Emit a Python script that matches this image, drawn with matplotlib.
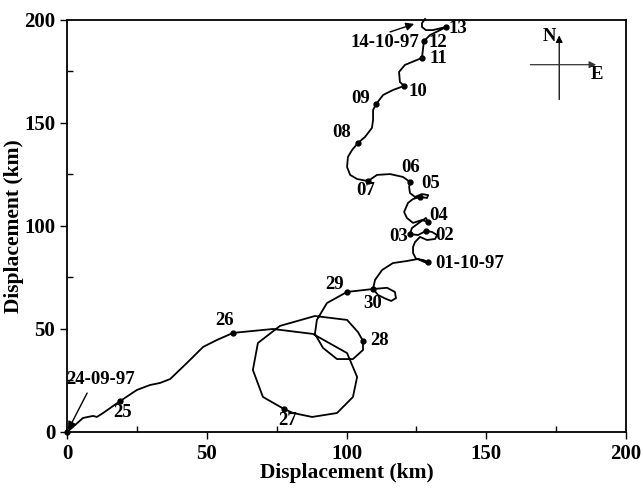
import matplotlib
matplotlib.use("Agg")
import matplotlib.pyplot as plt
from matplotlib.ticker import MultipleLocator

plt.rcParams['font.family'] = ['Liberation Serif', 'DejaVu Serif']
plt.rcParams['font.weight'] = 'bold'

# drifter track (km east, km north)
track_x = [0, 2.1, 5.7, 9.3, 10.7, 12.9, 19.0, 25.0, 29.7, 33.3, 36.9, 42.9, 48.7, 53.7, 59.4,
           73.7, 88.0, 100.2, 103.8, 102.3, 96.6, 87.7, 80.9, 77.6, 70.1, 66.5, 68.3, 76.2,
           88.7, 100.2, 104.1, 105.9, 105.9, 102.3, 96.6, 91.6, 88.7, 89.4, 93.0, 100.2,
           109.5, 114.5, 117.3, 117.7, 116.0, 113.8, 111.3, 109.5, 110.2, 112.7, 116.6, 121.6,
           125.6, 127.0, 128.8, 129.2, 127.4, 124.9, 123.8, 123.8, 124.5, 126.3, 128.8, 131.7,
           132.4, 130.6, 128.4, 125.6, 122.7, 123.4, 126.3, 128.4, 129.2, 127.0, 123.8, 121.6,
           120.6, 122.0, 123.8, 126.3, 128.8, 129.2, 127.0, 124.5, 122.7, 122.4, 122.7, 120.2,
           115.6, 110.9, 107.7, 103.8, 101.3, 100.2, 100.5, 102.0, 104.1, 106.6, 109.1, 109.5,
           109.5, 110.6, 113.1, 116.6, 120.6, 119.1, 118.8, 120.9, 125.2, 127.0, 127.4, 127.7,
           129.9, 133.5, 135.6, 130.9, 128.4, 127.0, 127.0, 128.1]
track_y = [0, 2.4, 6.8, 7.8, 7.3, 9.2, 15.0, 20.4, 22.8, 23.8, 25.7, 33.5, 41.3, 44.7, 48.1,
           50.0, 47.6, 38.3, 26.7, 17.0, 9.2, 7.3, 9.2, 11.2, 17.0, 30.1, 43.2, 51.5,
           56.3, 54.4, 48.5, 44.2, 39.8, 35.4, 35.4, 40.8, 47.6, 54.4, 62.6, 68.0,
           69.4, 70.0, 68.0, 65.0, 63.6, 64.8, 66.5, 69.4, 73.8, 78.6, 82.0, 83.0,
           84.0, 83.0, 82.0, 82.5, 83.5, 84.0, 86.9, 89.8, 92.2, 94.7, 93.2, 93.7,
           95.6, 97.1, 97.6, 95.6, 96.1, 99.0, 101.9, 103.9, 101.9, 102.9, 101.5, 103.9,
           106.8, 111.2, 113.1, 114.1, 113.6, 115.0, 115.5, 114.1, 116.0, 118.9, 121.4, 123.8,
           125.2, 124.8, 121.8, 122.8, 124.8, 128.6, 133.5, 136.9, 140.3, 143.2, 147.6, 151.5,
           156.3, 159.2, 163.6, 166.0, 168.0, 169.9, 174.8, 178.2, 180.6, 181.6, 186.4, 189.8,
           192.7, 195.1, 196.6, 195.1, 195.1, 196.6, 198.5, 200.5]

# daily positions and their labels
day_x = [0, 19.0, 59.4, 77.6, 105.9, 100.2, 109.5, 129.2, 128.4, 122.7, 129.2, 126.3,
         122.7, 107.7, 104.1, 110.6, 120.6, 127.0, 127.7, 135.6]
day_y = [0, 15.0, 48.1, 11.2, 44.2, 68.0, 69.4, 82.5, 97.6, 96.1, 101.9, 114.1,
         121.4, 121.8, 140.3, 159.2, 168.0, 181.6, 189.8, 196.6]
day_labels = ['25', '26', '27', '28', '29', '30', '01-10-97', '02', '03', '04', '05',
              '06', '07', '08', '09', '10', '11', '12', '13']
label_x = [20.0, 56.5, 79.1, 112.0, 95.9, 109.5, 131.7, 135.2, 118.8, 133.1, 130.2,
           123.1, 107.0, 98.4, 105.2, 125.6, 132.7, 132.7, 139.9]
label_y = [9.7, 53.9, 5.8, 44.2, 71.4, 62.6, 82.0, 95.6, 95.1, 104.9, 120.4,
           128.2, 117.0, 145.6, 161.7, 165.5, 181.1, 189.3, 196.1]

fig = plt.figure(figsize=(6.43, 4.90), dpi=100)
ax = fig.add_axes([0.1042, 0.1184, 0.8694, 0.8408])

ax.plot(track_x, track_y, color='black', lw=1.3, clip_on=False)
ax.plot(day_x, day_y, 'o', color='black', ms=3.5, clip_on=False)

for lx, ly, t in zip(label_x, label_y, day_labels):
    ha = 'left' if t == '01-10-97' else 'center'
    ax.text(lx, ly, t, fontsize=13.5, ha=ha, va='center')

# start / end annotations
arrow = dict(arrowstyle='-|>', color='black', lw=1, shrinkA=0, shrinkB=0, mutation_scale=12)
ax.text(12.2, 25.7, '24-09-97', fontsize=13.5, ha='center', va='center')
ax.annotate('', xy=(0.4, 1.0), xytext=(7.2, 18.9), arrowprops=arrow)
ax.text(113.8, 189.3, '14-10-97', fontsize=13.5, ha='center', va='center')
ax.annotate('', xy=(124.2, 198.1), xytext=(115.6, 194.2), arrowprops=arrow)

# compass
ax.annotate('', xy=(176.1, 192.5), xytext=(176.1, 161.4),
            arrowprops=dict(arrowstyle='-|>', color='black', lw=0.9, shrinkA=0, shrinkB=0))
ax.annotate('', xy=(189.3, 178.3), xytext=(165.8, 178.3),
            arrowprops=dict(arrowstyle='-|>', color='#333333', lw=0.9, shrinkA=0, shrinkB=0))
ax.text(172.5, 192.0, 'N', fontsize=13.5, ha='center', va='center')
ax.text(189.5, 173.5, 'E', fontsize=13.5, ha='center', va='center')

ax.set_xlim(0, 200)
ax.set_ylim(0, 200)
ax.xaxis.set_major_locator(MultipleLocator(50))
ax.yaxis.set_major_locator(MultipleLocator(50))
ax.xaxis.set_minor_locator(MultipleLocator(25))
ax.yaxis.set_minor_locator(MultipleLocator(25))
ax.tick_params(which='major', direction='out', length=5, width=1, labelsize=15)
ax.tick_params(which='minor', direction='in', length=4, width=1)
for s in ax.spines.values():
    s.set_linewidth(1.3)

ax.set_xlabel('Displacement (km)', fontsize=15.5, fontweight='bold', va='center')
ax.set_ylabel('Displacement (km)', fontsize=15.5, fontweight='bold', va='center')
ax.xaxis.set_label_coords(0.5, -0.1)
ax.yaxis.set_label_coords(-0.094, 0.5)

fig.savefig('out.png', dpi=100)
